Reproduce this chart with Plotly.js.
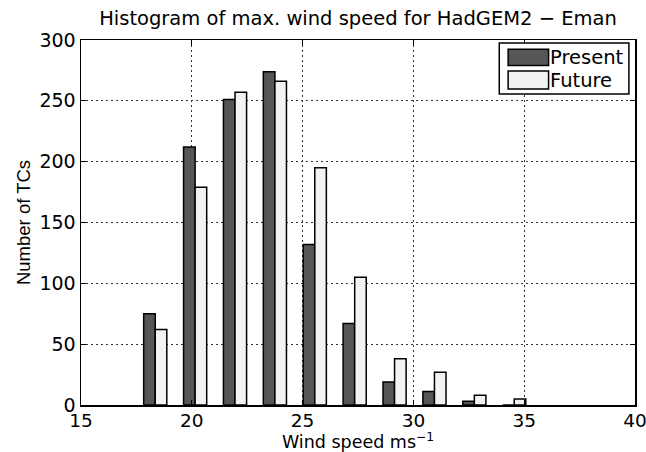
<!DOCTYPE html>
<html>
<head>
<meta charset="utf-8">
<script src="https://cdn.plot.ly/plotly-3.0.1.min.js"></script>
<style>html,body{margin:0;padding:0;background:#fff;}#chart{width:646px;height:452px;}</style>
</head>
<body>
<div id="chart"></div>
<script>
// Bin centres (wind speed, m/s) and counts
var binCenters = [18.35, 20.15, 21.95, 23.75, 25.55, 27.35, 29.15, 30.95, 32.75, 34.55];
var presentCounts = [75, 212, 251, 274, 132, 67, 19, 11, 3, 0];
var futureCounts  = [62, 179, 257, 266, 195, 105, 38, 27, 8, 5];
var seriesNames = ["Present", "Future"];
var seriesColors = ["#565656", "#f2f2f2"];
var xTicks = [15, 20, 25, 30, 35, 40];
var yTicks = [0, 50, 100, 150, 200, 250, 300];

var F = "DejaVu Sans, Liberation Sans, Arial, sans-serif";

var traces = [presentCounts, futureCounts].map(function (vals, i) {
  return {
    type: "bar",
    x: binCenters,
    y: vals,
    name: seriesNames[i],
    marker: {color: seriesColors[i], line: {color: "#000", width: 1.5}},
    showlegend: false,
    hoverinfo: "x+y+name"
  };
});

// custom legend (box, swatches, labels) in paper coordinates
var shapes = [
  {type: "rect", xref: "paper", yref: "paper", x0: 0.755, x1: 0.989, y0: 0.852, y1: 0.992,
   line: {color: "#000", width: 1.5}, fillcolor: "#fff", layer: "above"}
];
var annotations = [];
var swY = [[0.930, 0.975], [0.866, 0.915]];
var txtY = [0.952, 0.890];
for (var i = 0; i < seriesNames.length; i++) {
  shapes.push({type: "rect", xref: "paper", yref: "paper", x0: 0.771, x1: 0.844,
    y0: swY[i][0], y1: swY[i][1], line: {color: "#000", width: 1.5},
    fillcolor: seriesColors[i], layer: "above"});
  annotations.push({xref: "paper", yref: "paper", x: 0.843, y: txtY[i], xanchor: "left",
    yanchor: "middle", showarrow: false, text: seriesNames[i],
    font: {family: F, size: 19.5, color: "#000"}});
}

var axisCommon = {
  showline: true, mirror: "ticks", linecolor: "#000", linewidth: 1.5,
  ticks: "inside", ticklen: 5, tickwidth: 1, tickcolor: "#000",
  showgrid: true, gridcolor: "#333", gridwidth: 1, griddash: "2px,3px",
  zeroline: false, ticklabeloverflow: "allow",
  tickfont: {family: F, size: 19, color: "#000"}
};

var layout = {
  width: 646, height: 452,
  margin: {l: 81, r: 11, t: 40, b: 47},
  paper_bgcolor: "#fff", plot_bgcolor: "#fff",
  barmode: "group", bargap: 0.42, bargroupgap: 0,
  title: {text: "Histogram of max. wind speed for HadGEM2 \u2212 Eman",
          font: {family: F, size: 19.5, color: "#000"},
          x: 0.5, xref: "paper", xanchor: "center", y: 0.96, yref: "container", yanchor: "middle"},
  xaxis: Object.assign({}, axisCommon, {
    range: [15, 40], tickvals: xTicks, ticktext: xTicks.map(String),
    ticklabelstandoff: -2, tickfont: {family: F, size: 18.5, color: "#000"},
    title: {text: "Wind speed ms<sup>\u22121</sup>", font: {family: F, size: 17.5, color: "#000"}, standoff: 7}
  }),
  yaxis: Object.assign({}, axisCommon, {
    range: [0, 300], tickvals: yTicks, ticktext: yTicks.map(String),
    title: {text: "Number of TCs", font: {family: "Liberation Sans, Arial, sans-serif", size: 18.5, color: "#000"}, standoff: 4}
  }),
  shapes: shapes,
  annotations: annotations
};

Plotly.newPlot("chart", traces, layout, {displayModeBar: false, staticPlot: true});
</script>
</body>
</html>
